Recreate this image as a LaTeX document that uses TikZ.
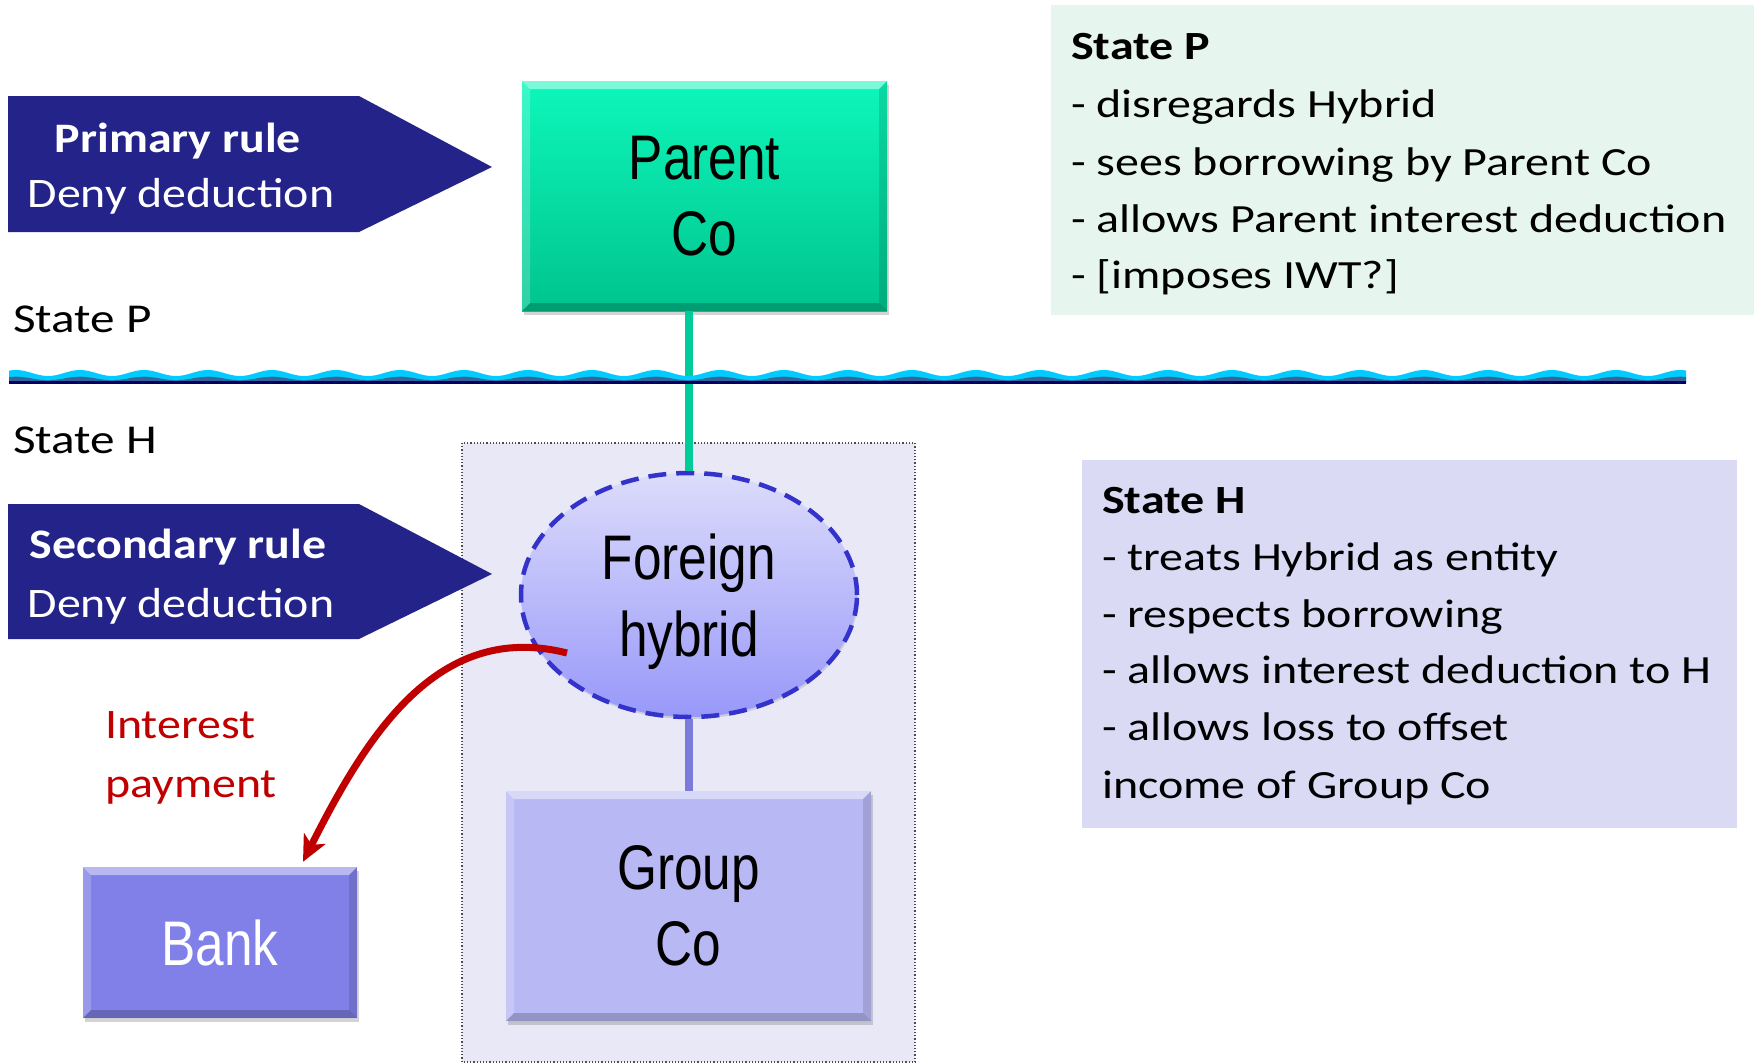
\documentclass[tikz,border=0pt]{standalone}
\usepackage{fontspec}
\setmainfont{Carlito}
\newfontfamily\arialf{Liberation Sans}
\usetikzlibrary{shapes.geometric,shadows,calc,arrows.meta}

% horizontally widened and narrowed text
\newcommand{\widetxt}[1]{\scalebox{1.2}[1]{#1}}
\newcommand{\midtxt}[1]{\scalebox{1.14}[1]{#1}}
\newcommand{\narrowtxt}[1]{\scalebox{0.815}[1]{#1}}

\definecolor{rulenavy}{HTML}{232389}
\definecolor{pboxfill}{HTML}{E6F6EE}
\definecolor{hboxfill}{HTML}{DADAF4}
\definecolor{zonefill}{HTML}{E8E8F6}
\definecolor{parenttop}{HTML}{0DF7BA}
\definecolor{parentbot}{HTML}{00C48E}
\definecolor{hybtop}{HTML}{DCDCFB}
\definecolor{hybbot}{HTML}{9898FA}
\definecolor{hybborder}{HTML}{3333CC}
\definecolor{groupfill}{HTML}{B8B8F5}
\definecolor{bankfill}{HTML}{8080E8}
\definecolor{payred}{HTML}{C00000}
\definecolor{greenlink}{HTML}{00CC99}
\definecolor{purplelink}{HTML}{7B7BDB}
\definecolor{wavecyan}{HTML}{00CCFF}
\definecolor{wavesteel}{HTML}{336699}
\definecolor{wavenavy}{HTML}{000066}

\tikzset{
  bevel/.style={path picture={
    \fill[white,opacity=0.45] (path picture bounding box.north west) -- (path picture bounding box.north east)
      -- ([xshift=-8pt,yshift=-8pt]path picture bounding box.north east) -- ([xshift=8pt,yshift=-8pt]path picture bounding box.north west) -- cycle;
    \fill[white,opacity=0.2] (path picture bounding box.north west) -- ([xshift=8pt,yshift=-8pt]path picture bounding box.north west)
      -- ([xshift=8pt,yshift=8pt]path picture bounding box.south west) -- (path picture bounding box.south west) -- cycle;
    \fill[black,opacity=0.12] (path picture bounding box.north east) -- ([xshift=-8pt,yshift=-8pt]path picture bounding box.north east)
      -- ([xshift=-8pt,yshift=8pt]path picture bounding box.south east) -- (path picture bounding box.south east) -- cycle;
    \fill[black,opacity=0.2] (path picture bounding box.south west) -- ([xshift=8pt,yshift=8pt]path picture bounding box.south west)
      -- ([xshift=-8pt,yshift=8pt]path picture bounding box.south east) -- (path picture bounding box.south east) -- cycle;
  }},
  entity/.style={rectangle, inner sep=0pt, align=center, bevel,
    font=\arialf\fontsize{63}{76}\selectfont,
    drop shadow={shadow xshift=2pt, shadow yshift=-4pt, opacity=0.35}},
  boxtext/.style={font=\fontsize{40}{48}\selectfont, anchor=base west, inner sep=0pt},
  boxhead/.style={boxtext, font=\bfseries\fontsize{40}{48}\selectfont},
  ruletext/.style={font=\fontsize{42}{52}\selectfont, text=white, anchor=base, inner sep=0pt},
  rulehead/.style={ruletext, font=\bfseries\fontsize{42}{52}\selectfont},
  statelabel/.style={font=\fontsize{41}{48}\selectfont, anchor=base west, inner sep=0pt},
  paytext/.style={font=\fontsize{42}{52}\selectfont, text=payred, anchor=base west, inner sep=0pt},
}

\begin{document}
\begin{tikzpicture}[x=1pt,y=-1pt]
\useasboundingbox (0,0) rectangle (1754,1063);

% State H zone holding the hybrid and Group Co
\draw[dotted, line width=1.2pt, draw=black!70, fill=zonefill] (462,443) rectangle (915,1062);

% explanatory panels
\fill[pboxfill] (1051,5) rectangle (1754,315);
\fill[hboxfill] (1082,460) rectangle (1737,828);

\node[boxhead] (p0) at (1071,59) {\widetxt{State P}};
\node[boxtext] (p1) at (1071,117) {\widetxt{- disregards Hybrid}};
\node[boxtext] (p2) at (1071,175) {\widetxt{- sees borrowing by Parent Co}};
\node[boxtext] (p3) at (1071,232) {\widetxt{- allows Parent interest deduction}};
\node[boxtext] (p4) at (1071,288) {\widetxt{- [imposes IWT?]}};

\node[boxhead] (h0) at (1102,513) {\widetxt{State H}};
\node[boxtext] (h1) at (1102,570) {\widetxt{- treats Hybrid as entity}};
\node[boxtext] (h2) at (1102,627) {\widetxt{- respects borrowing}};
\node[boxtext] (h3) at (1102,683) {\widetxt{- allows interest deduction to H}};
\node[boxtext] (h4) at (1102,740) {\widetxt{- allows loss to offset}};
\node[boxtext] (h5) at (1102,798) {\widetxt{income of Group Co}};

% rule arrows
\fill[rulenavy] (8,96) -- (359,96) -- (492,167) -- (359,232) -- (8,232) -- cycle;
\node[rulehead] (r1a) at (178,152) {\midtxt{Primary rule}};
\node[ruletext] (r1b) at (181,207) {\midtxt{Deny deduction}};

\fill[rulenavy] (8,504) -- (359,504) -- (492,574) -- (359,639) -- (8,639) -- cycle;
\node[rulehead] (r2a) at (178,558) {\midtxt{Secondary rule}};
\node[ruletext] (r2b) at (181,617) {\midtxt{Deny deduction}};

% state labels
\node[statelabel] (lp) at (13,332) {\widetxt{State P}};
\node[statelabel] (lh) at (13,453) {\widetxt{State H}};

% entities
\node[entity, minimum width=365pt, minimum height=230pt, top color=parenttop, bottom color=parentbot] (parent)
      at (704.5,196) {\narrowtxt{Parent}\\\narrowtxt{Co}};

\node[ellipse, minimum width=336pt, minimum height=244pt, inner sep=0pt, align=center, text depth=0pt,
      top color=hybtop, bottom color=hybbot, draw=hybborder, line width=4.5pt,
      dash pattern=on 18pt off 10pt,
      drop shadow={shadow xshift=1pt, shadow yshift=-2pt, opacity=0.25},
      font=\arialf\fontsize{63}{77}\selectfont] (hyb) at (689,595)
      {\narrowtxt{Foreign}\\\narrowtxt{hybrid}};

\node[entity, minimum width=365pt, minimum height=230pt, fill=groupfill] (group)
      at (688.5,906) {\narrowtxt{Group}\\\narrowtxt{Co}};

\node[entity, minimum width=274pt, minimum height=151pt, fill=bankfill, text=white] (bank)
      at (220,942.5) {\narrowtxt{Bank}};

% ownership links
\draw[greenlink, line width=8pt] (hyb.north |- parent.south) -- (hyb.north);
\draw[purplelink, line width=8pt] (hyb.south) -- (group.north -| hyb.south);

% border between the two states
\fill[wavecyan] plot[domain=9:1686, samples=500] (\x,{373-3*sin(\x*5.625)}) -- (1686,383) -- (9,383) -- cycle;
\fill[wavesteel] plot[domain=9:1686, samples=500] (\x,{378.5-1.8*sin(\x*5.625)}) -- (1686,383) -- (9,383) -- cycle;
\fill[wavenavy] (9,380.5) rectangle (1686,384);

% interest payment
\draw[payred, line width=7pt, -{Stealth[length=26pt, width=24pt, inset=7pt]}]
  ([shift={(-122,58)}]hyb.center) .. controls (437,620) and (366,737) .. ([xshift=83pt, yshift=5pt]bank.north);
\node[paytext] (pay1) at (105,738) {\midtxt{Interest}};
\node[paytext] (pay2) at (105,797) {\midtxt{payment}};

\end{tikzpicture}
\end{document}
